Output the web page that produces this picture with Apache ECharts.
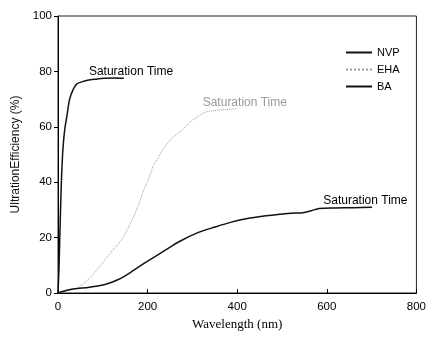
<!DOCTYPE html>
<html>
<head>
<meta charset="utf-8">
<style>
  html, body { margin: 0; padding: 0; background: #fff; }
  #chart { width: 429px; height: 340px; }
</style>
<script src="https://cdn.jsdelivr.net/npm/echarts@6/dist/echarts.min.js"></script>
</head>
<body>
<div id="chart"></div>
<script>
// Data
var seriesNames = ['NVP', 'EHA', 'BA'];
var xTicks = [0, 200, 400, 600, 800];
var yTicks = [0, 20, 40, 60, 80, 100];

var nvpX = [0, 2, 4, 6, 8, 11, 15, 20, 26, 34, 42, 55, 66, 85, 103, 125, 147];
var nvpY = [0, 8, 20, 32, 42, 52, 59, 64, 70, 73.5, 75.5, 76.3, 76.8, 77.2, 77.5, 77.6, 77.5];

var ehaX = [0, 20, 44, 65, 81, 95, 110, 125, 141, 155, 169, 180, 191, 202, 213, 224, 235, 255, 275, 297, 320, 334, 360, 385, 400];
var ehaY = [0, 0.8, 1.8, 4.5, 7.2, 10, 13, 16, 19, 23, 27.6, 32, 37, 41, 46, 49, 52, 56, 58.5, 62, 64.5, 65.5, 66, 66.3, 66.5];

var baX = [0, 20, 37, 70, 103, 120, 140, 158, 176, 200, 235, 270, 312, 350, 385, 420, 460, 495, 520, 547, 565, 583, 620, 660, 701];
var baY = [0, 1, 1.5, 2.1, 3.0, 3.9, 5.3, 7.0, 9, 11.5, 15, 18.5, 21.8, 23.8, 25.5, 26.8, 27.8, 28.4, 28.8, 29, 29.7, 30.5, 30.7, 30.8, 31];

var satLabel = 'Saturation Time';
var nvpLabelAt = [163, 79.8];
var ehaLabelAt = [417, 68.6];
var baLabelAt = [686, 33.3];

function pairs(xs, ys) {
  return xs.map(function (x, i) { return [x, ys[i]]; });
}

function labelPoint(coord, color) {
  return {
    symbol: 'circle',
    symbolSize: 2,
    silent: true,
    itemStyle: { color: 'rgba(0,0,0,0)' },
    label: {
      show: true,
      position: 'inside',
      formatter: satLabel,
      color: color,
      fontFamily: 'Liberation Sans, Arial, sans-serif',
      fontSize: 12
    },
    data: [{ coord: coord }]
  };
}

var chart = echarts.init(document.getElementById('chart'), null, { renderer: 'canvas' });

chart.setOption({
  animation: false,
  backgroundColor: '#ffffff',
  grid: {
    left: 58, right: 8, top: 16, bottom: 47,
    show: true, borderColor: '#222', borderWidth: 1, backgroundColor: 'transparent'
  },
  legend: {
    orient: 'vertical',
    left: 340, top: 42,
    itemWidth: 26, itemHeight: 8, itemGap: 6,
    itemStyle: { opacity: 0 },
    textStyle: { fontFamily: 'Liberation Sans, Arial, sans-serif', fontSize: 11, color: '#000' },
    data: seriesNames
  },
  xAxis: {
    type: 'value',
    min: 0, max: 800, interval: 200,
    name: 'Wavelength (nm)',
    nameLocation: 'middle',
    nameGap: 25,
    nameTextStyle: { fontFamily: 'Liberation Serif, Times New Roman, serif', fontSize: 13, color: '#000' },
    axisLine: { show: true, lineStyle: { color: '#000', width: 1 } },
    axisTick: { show: true, inside: true, length: 4, lineStyle: { color: '#000' } },
    axisLabel: { margin: 8, fontFamily: 'Liberation Sans, Arial, sans-serif', fontSize: 11.5, color: '#000',
      formatter: function (v) { return xTicks.indexOf(v) >= 0 ? String(v) : ''; } },
    splitLine: { show: false }
  },
  yAxis: {
    type: 'value',
    min: 0, max: 100, interval: 20,
    name: 'UltrationEfficiency (%)',
    nameLocation: 'middle',
    nameGap: 34,
    nameTextStyle: { fontFamily: 'Liberation Sans, Arial, sans-serif', fontSize: 12, color: '#111' },
    axisLine: { show: true, lineStyle: { color: '#000', width: 1 } },
    axisTick: { show: true, inside: false, length: 4, lineStyle: { color: '#000' } },
    axisLabel: { margin: 6, fontFamily: 'Liberation Sans, Arial, sans-serif', fontSize: 11.5, color: '#000',
      formatter: function (v) { return yTicks.indexOf(v) >= 0 ? String(v) : ''; } },
    splitLine: { show: false }
  },
  series: [
    {
      name: 'NVP', type: 'line', data: pairs(nvpX, nvpY),
      symbol: 'none', smooth: 0.3,
      lineStyle: { color: '#111', width: 1.5 },
      itemStyle: { color: '#555' },
      markPoint: labelPoint(nvpLabelAt, '#000')
    },
    {
      name: 'EHA', type: 'line', data: pairs(ehaX, ehaY),
      symbol: 'none', smooth: 0.3,
      lineStyle: { color: '#999', width: 1, type: 'dotted' },
      itemStyle: { color: '#aaa' },
      markPoint: labelPoint(ehaLabelAt, '#999')
    },
    {
      name: 'BA', type: 'line', data: pairs(baX, baY),
      symbol: 'none', smooth: 0.3,
      lineStyle: { color: '#111', width: 1.5 },
      itemStyle: { color: '#555' },
      markPoint: labelPoint(baLabelAt, '#000')
    }
  ]
});
</script>
</body>
</html>
